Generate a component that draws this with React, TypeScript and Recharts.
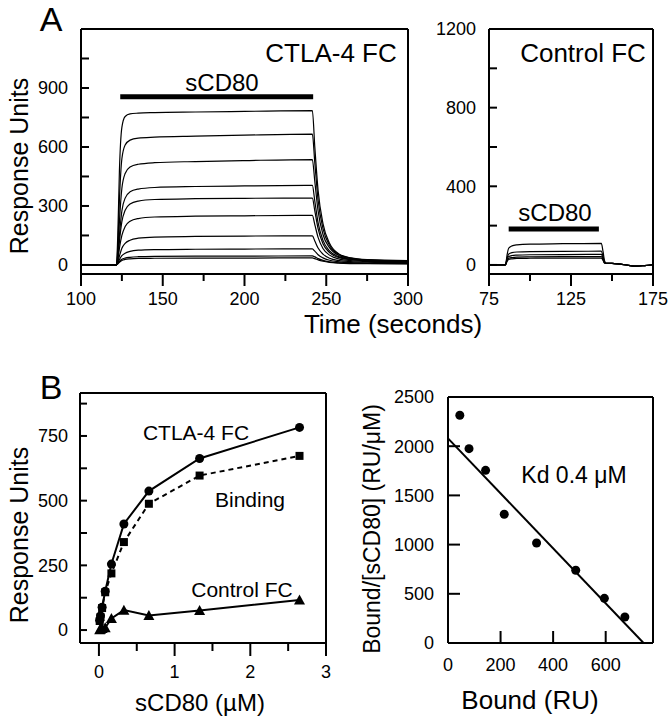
import React from 'react'
import { LineChart, ComposedChart, Line, XAxis, YAxis, ReferenceLine } from 'recharts'

const FONT = '"Liberation Sans", Arial, Helvetica, sans-serif'
const AXIS = { stroke: '#000', strokeWidth: 2 }

// A, CTLA-4 FC sensorgrams (RU against time, s)
const ctlaTimes = [100, 121.5, 122.5, 123.5, 125, 127, 130, 135, 145, 170, 200, 241.5, 243, 245, 248, 252, 258, 265, 275, 300]
const ctlaTraces = [
  [0, 0, 150, 480, 700, 755, 768, 772, 775, 778, 781, 785, 600, 380, 210, 110, 55, 36, 27, 22],
  [0, 0, 90, 330, 540, 610, 635, 645, 650, 655, 660, 665, 520, 330, 185, 100, 52, 35, 26, 20],
  [0, 0, 60, 220, 390, 465, 498, 512, 520, 526, 531, 536, 425, 275, 155, 88, 47, 32, 24, 19],
  [0, 0, 40, 150, 275, 340, 372, 386, 394, 399, 402, 405, 325, 215, 125, 72, 41, 29, 22, 17],
  [0, 0, 32, 120, 220, 278, 310, 325, 333, 337, 339, 340, 275, 185, 108, 63, 37, 27, 21, 16],
  [0, 0, 24, 85, 150, 195, 222, 236, 244, 248, 250, 252, 205, 140, 84, 50, 30, 22, 18, 14],
  [0, 0, 15, 45, 85, 110, 126, 136, 142, 145, 147, 148, 122, 86, 55, 34, 22, 17, 14, 11],
  [0, 0, 10, 27, 47, 60, 69, 75, 78, 80, 81, 82, 70, 52, 36, 24, 16, 12, 10, 9],
  [0, 0, 7, 18, 29, 35, 39, 42, 44, 45, 45, 46, 41, 32, 23, 16, 11, 9, 8, 7],
  [0, 0, 6, 14, 23, 28, 31, 33, 34, 35, 35, 36, 32, 26, 19, 13, 9, 7, 6, 5],
]
const ctlaTimeTicks = [100, 125, 150, 175, 200, 225, 250, 275, 300]
const ctlaTimeLabels = [100, 150, 200, 250, 300]
const ctlaRuTicks = [0, 150, 300, 450, 600, 750, 900, 1050]
const ctlaRuLabels = [0, 300, 600, 900]

// A, Control FC sensorgrams
const ctrlTimes = [75, 85, 86, 87, 89, 92, 100, 120, 143.5, 144.5, 145.5, 146.5, 150, 155, 160, 165, 170, 175]
const ctrlTraces = [
  [0, 0, 50, 85, 97, 102, 106, 108, 110, 70, 20, 8, 8, 4, -2, -6, -3, 1],
  [0, 0, 35, 55, 63, 66, 68, 69, 70, 45, 14, 8, 8, 4, -2, -6, -3, 1],
  [0, 0, 28, 43, 48, 50, 52, 53, 54, 35, 12, 8, 8, 4, -2, -6, -3, 1],
  [0, 0, 22, 34, 38, 40, 41, 42, 43, 28, 10, 8, 8, 4, -2, -6, -3, 1],
  [0, 0, 18, 28, 31, 33, 34, 35, 35, 24, 9, 8, 8, 4, -2, -6, -3, 1],
]
const ctrlTimeTicks = [75, 100, 125, 150, 175]
const ctrlTimeLabels = [75, 125, 175]
const ctrlRuTicks = [0, 200, 400, 600, 800, 1000, 1200]
const ctrlRuLabels = [0, 400, 800, 1200]

// B, equilibrium binding against sCD80 (uM)
const conc = [0.01, 0.021, 0.042, 0.083, 0.165, 0.33, 0.66, 1.33, 2.65]
const ctlaRu = [38, 55, 88, 150, 255, 410, 537, 663, 783]
const bindingRu = [35, 50, 85, 146, 219, 340, 488, 597, 673]
const controlRu = [1, 3, 6, 9, 45, 77, 56, 76, 116]
const concTicks = [0, 0.5, 1, 1.5, 2, 2.5, 3]
const concLabels = [0, 1, 2, 3]
const ruTicks = [0, 125, 250, 375, 500, 625, 750, 875]
const ruLabels = [0, 250, 500, 750]

// B, Scatchard
const boundRu = [45, 80, 143, 214, 337, 486, 595, 673]
const boundPerConc = [2315, 1975, 1755, 1308, 1016, 739, 454, 264]
const fitBound = [0, 744]
const fitRatio = [2080, 0]
const boundTicks = [0, 200, 400, 600]
const ratioTicks = [0, 500, 1000, 1500, 2000, 2500]

const ctlaRows = ctlaTimes.map((t, i) => {
  const row: Record<string, number> = { t }
  ctlaTraces.forEach((tr, k) => { row['r' + k] = tr[i] })
  return row
})
const ctrlRows = ctrlTimes.map((t, i) => {
  const row: Record<string, number> = { t }
  ctrlTraces.forEach((tr, k) => { row['r' + k] = tr[i] })
  return row
})
const bindRows = conc.map((c, i) => ({ c, ctla: ctlaRu[i], binding: bindingRu[i], control: controlRu[i] }))
const scatRows = boundRu.map((b, i) => ({ x: b, y: boundPerConc[i] }))
const fitRows = fitBound.map((b, i) => ({ x: b, y: fitRatio[i] }))

function leftTick(labels: number[], len: number, gap: number) {
  return (p: any) => {
    const v = p.payload.value
    return (
      <g key={'y' + v}>
        <line x1={p.x} y1={p.y} x2={p.x + len} y2={p.y} stroke="#000" strokeWidth={2} />
        {labels.includes(v) && (
          <text x={p.x - gap} y={p.y} dy="0.35em" textAnchor="end" fontSize={18} fontFamily={FONT} fill="#000">{v}</text>
        )}
      </g>
    )
  }
}

// len > 0 points down (outside), len < 0 points up into the plot
function bottomTick(labels: number[], major: number, minor: number, gap: number) {
  return (p: any) => {
    const v = p.payload.value
    const lab = labels.includes(v)
    return (
      <g key={'x' + v}>
        <line x1={p.x} y1={p.y} x2={p.x} y2={p.y + (lab ? major : minor)} stroke="#000" strokeWidth={2} />
        {lab && (
          <text x={p.x} y={p.y + gap} dy="0.71em" textAnchor="middle" fontSize={18} fontFamily={FONT} fill="#000">{v}</text>
        )}
      </g>
    )
  }
}

// top and right sides of the frame
function frame(xMax: number, yMax: number) {
  return [
    <ReferenceLine key="ft" y={yMax} stroke="#000" strokeWidth={2} />,
    <ReferenceLine key="fr" x={xMax} stroke="#000" strokeWidth={2} />,
  ]
}

const circle = (p: any) => p.cx == null ? <g key={p.index} /> : <circle key={p.index} cx={p.cx} cy={p.cy} r={4.5} fill="#000" />
const square = (p: any) => p.cx == null ? <g key={p.index} /> : <rect key={p.index} x={p.cx - 4} y={p.cy - 4} width={8} height={8} fill="#000" />
const triangle = (p: any) => p.cx == null ? <g key={p.index} /> : (
  <path key={p.index} d={`M${p.cx},${p.cy - 5.5} L${p.cx + 5.5},${p.cy + 4.5} L${p.cx - 5.5},${p.cy + 4.5} Z`} fill="#000" />
)

function CtlaPanel() {
  return (
    <LineChart width={440} height={330} data={ctlaRows} margin={{ top: 29, right: 32, bottom: 30, left: 21 }}>
      <XAxis dataKey="t" type="number" domain={[100, 300]} allowDataOverflow ticks={ctlaTimeTicks} interval={0}
        height={26} tickSize={0} tickMargin={0} tickLine={false} axisLine={AXIS} tick={bottomTick(ctlaTimeLabels, 12, 7, 18)} />
      <YAxis type="number" domain={[-46, 1200]} allowDataOverflow ticks={ctlaRuTicks} interval={0} width={60}
        tickSize={0} tickMargin={0} tickLine={false} axisLine={AXIS} tick={leftTick(ctlaRuLabels, 8, 13)} />
      {frame(300, 1200)}
      <ReferenceLine segment={[{ x: 124, y: 855 }, { x: 242, y: 855 }]} stroke="#000" strokeWidth={5} />
      {ctlaTraces.map((_, k) => (
        <Line key={k} dataKey={'r' + k} type="monotone" stroke="#000" strokeWidth={1.2} dot={false} isAnimationActive={false} />
      ))}
    </LineChart>
  )
}

function ControlPanel() {
  return (
    <LineChart width={252} height={330} data={ctrlRows} margin={{ top: 29, right: 19, bottom: 30, left: 9 }}>
      <XAxis dataKey="t" type="number" domain={[75, 175]} allowDataOverflow ticks={ctrlTimeTicks} interval={0}
        height={26} tickSize={0} tickMargin={0} tickLine={false} axisLine={AXIS} tick={bottomTick(ctrlTimeLabels, 12, 7, 18)} />
      <YAxis type="number" domain={[-46, 1200]} allowDataOverflow ticks={ctrlRuTicks} interval={0} width={60}
        tickSize={0} tickMargin={0} tickLine={false} axisLine={AXIS} tick={leftTick(ctrlRuLabels, 8, 13)} />
      {frame(175, 1200)}
      <ReferenceLine segment={[{ x: 87, y: 183 }, { x: 142, y: 183 }]} stroke="#000" strokeWidth={5} />
      {ctrlTraces.map((_, k) => (
        <Line key={k} dataKey={'r' + k} type="monotone" stroke="#000" strokeWidth={1.2} dot={false} isAnimationActive={false} />
      ))}
    </LineChart>
  )
}

function BindingPanel() {
  return (
    <LineChart width={340} height={380} data={bindRows} margin={{ top: 53, right: 14, bottom: 47, left: 20 }}>
      <XAxis dataKey="c" type="number" domain={[-0.25, 3]} allowDataOverflow ticks={concTicks} interval={0}
        height={30} tickSize={0} tickMargin={0} tickLine={false} axisLine={AXIS} tick={bottomTick(concLabels, 13, 8, 22)} />
      <YAxis type="number" domain={[-50, 916]} allowDataOverflow ticks={ruTicks} interval={0} width={60}
        tickSize={0} tickMargin={0} tickLine={false} axisLine={AXIS} tick={leftTick(ruLabels, 7, 12)} />
      {frame(3, 916)}
      <Line dataKey="ctla" stroke="#000" strokeWidth={2} dot={circle} isAnimationActive={false} />
      <Line dataKey="binding" stroke="#000" strokeWidth={2} strokeDasharray="5 4" dot={square} isAnimationActive={false} />
      <Line dataKey="control" stroke="#000" strokeWidth={2} dot={triangle} isAnimationActive={false} />
    </LineChart>
  )
}

function ScatchardPanel() {
  return (
    <ComposedChart width={332} height={380} margin={{ top: 57, right: 19, bottom: 47, left: 48 }}>
      <XAxis dataKey="x" type="number" domain={[0, 780]} allowDataOverflow ticks={boundTicks} interval={0}
        height={30} tickSize={0} tickMargin={0} tickLine={false} axisLine={AXIS} tick={bottomTick(boundTicks, -12, -12, 15)} />
      <YAxis type="number" domain={[0, 2500]} allowDataOverflow ticks={ratioTicks} interval={0} width={60}
        tickSize={0} tickMargin={0} tickLine={false} axisLine={AXIS} tick={leftTick(ratioTicks, 12, 14)} />
      {frame(780, 2500)}
      <Line data={fitRows} dataKey="y" stroke="#000" strokeWidth={2} dot={false} isAnimationActive={false} />
      <Line data={scatRows} dataKey="y" stroke="none" dot={circle} isAnimationActive={false} />
    </ComposedChart>
  )
}

function Txt({ x, y, size, rot, children }: { x: number; y: number; size: number; rot?: boolean; children: React.ReactNode }) {
  return (
    <div style={{
      position: 'absolute', left: x, top: y, fontSize: size, lineHeight: 1, whiteSpace: 'nowrap',
      transform: `translate(-50%, -50%)${rot ? ' rotate(-90deg)' : ''}`,
    }}>{children}</div>
  )
}

export default function App() {
  return (
    <div style={{ position: 'absolute', left: 0, top: 0, width: 672, height: 720, background: '#fff', color: '#000', fontFamily: FONT, overflow: 'hidden' }}>
      <div style={{ position: 'absolute', left: 0, top: 0 }}><CtlaPanel /></div>
      <div style={{ position: 'absolute', left: 420, top: 0 }}><ControlPanel /></div>
      <div style={{ position: 'absolute', left: 0, top: 340 }}><BindingPanel /></div>
      <div style={{ position: 'absolute', left: 340, top: 340 }}><ScatchardPanel /></div>

      <Txt x={51} y={19} size={34}>A</Txt>
      <Txt x={51} y={387} size={34}>B</Txt>
      <Txt x={19} y={166} size={25} rot>Response Units</Txt>
      <Txt x={19} y={535} size={25} rot>Response Units</Txt>
      <Txt x={393} y={324} size={26}>Time (seconds)</Txt>
      <Txt x={331} y={53} size={26}>CTLA-4 FC</Txt>
      <Txt x={583} y={53} size={26}>Control FC</Txt>
      <Txt x={222} y={83} size={24}>sCD80</Txt>
      <Txt x={555} y={213} size={24}>sCD80</Txt>
      <Txt x={196} y={432} size={21}>CTLA-4 FC</Txt>
      <Txt x={250} y={499} size={21}>Binding</Txt>
      <Txt x={242} y={589} size={21}>Control FC</Txt>
      <Txt x={200} y={703} size={24}>sCD80 (µM)</Txt>
      <Txt x={574} y={475} size={23}>Kd 0.4 μM</Txt>
      <Txt x={530} y={700} size={26}>Bound (RU)</Txt>
      <Txt x={372} y={529} size={23} rot>Bound/[sCD80] (RU/μM)</Txt>
    </div>
  )
}
